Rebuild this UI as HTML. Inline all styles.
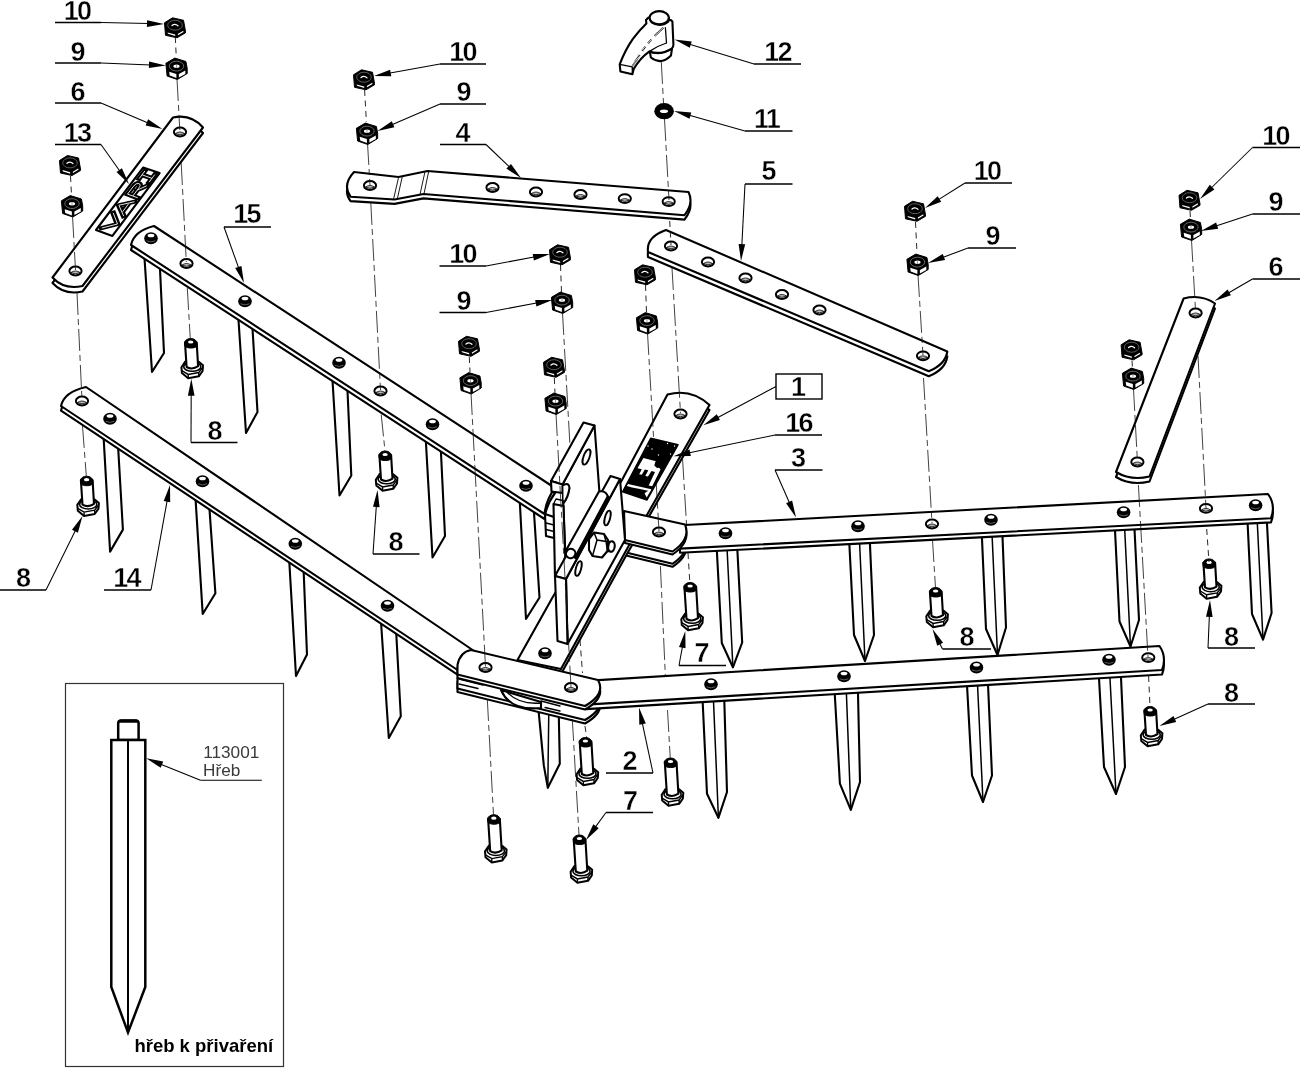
<!DOCTYPE html>
<html><head><meta charset="utf-8"><title>Exploded view</title>
<style>
html,body{margin:0;padding:0;background:#fff;}
svg{display:block;will-change:transform;}
.o{fill:#fff;stroke:#000;stroke-width:2.1;stroke-linejoin:round;stroke-linecap:round;}
.oi{fill:#fff;stroke:#000;stroke-width:2.5;stroke-linejoin:miter;}
.o2{fill:#fff;stroke:#000;stroke-width:1.9;}
.o3{fill:none;stroke:#000;stroke-width:3;stroke-linecap:round;}
.t{fill:none;stroke:#000;stroke-width:1.3;stroke-linejoin:round;stroke-linecap:round;}
.t2{fill:none;stroke:#000;stroke-width:0.9;}
.m{fill:none;stroke:#000;stroke-width:1.5;stroke-linecap:round;}
.h{fill:none;stroke:#000;stroke-width:2.2;stroke-dasharray:0.7 0.7;}
.l{fill:none;stroke:#000;stroke-width:1.05;}
.u{fill:none;stroke:#000;stroke-width:1.5;}
.d{fill:none;stroke:#111;stroke-width:0.8;stroke-dasharray:22 4 6 4;}
.d2{fill:none;stroke:#111;stroke-width:0.9;stroke-dasharray:6 4.5;}
.k{fill:#000;stroke:none;}
.kk{fill:#000;stroke:#000;stroke-width:1.5;stroke-linejoin:round;}
.w{fill:#fff;stroke:none;}
text{font-family:"Liberation Sans",sans-serif;fill:#000;}
.n{font-weight:bold;text-anchor:middle;stroke:#fff;stroke-width:0.4;}
.b{font-weight:bold;}
.thin{font-weight:normal;fill:#3a3a3a;}
</style></head>
<body>
<svg width="1300" height="1068" viewBox="0 0 1300 1068">
<rect width="1300" height="1068" fill="#fff"/>
<defs>
<g id="nut">
<path d="M-10.5,-5 L-2.5,-10 L8.5,-7.5 L10.5,3.5 L10.5,5 L2,10 L-9.5,7.5 Z" fill="#000" stroke="#000" stroke-width="1" stroke-linejoin="round"/>
<path d="M-7.5,4.6 L0.2,6.7 L0.2,8.3 L-7,5.9 Z" fill="#fff"/>
<path d="M2.8,6.3 L8.2,3 L8.5,4.3 L3,7.4 Z" fill="#fff"/>
<ellipse cx="0" cy="-2.6" rx="7.3" ry="5" fill="none" stroke="#999" stroke-width="0.6"/>
<path d="M-3,-2.2 Q0,-4.6 2.9,-2" fill="none" stroke="#fff" stroke-width="1.3" stroke-linecap="round"/>
</g>
<g id="nut9">
<path d="M-10.6,-5.2 L-1.7,-10.4 L9.4,-7 L10.7,-0.2 L10.7,5 L0.8,11 L-9.4,7.5 Z" fill="#000" stroke="#000" stroke-width="1" stroke-linejoin="round"/>
<path d="M-7.3,3.3 L-0.1,5.4 L-0.1,9.4 L-6.8,7 Z" fill="#fff"/>
<path d="M2.4,5.4 L8.8,2 L8.8,5.6 L2.4,9.1 Z" fill="#fff"/>
<ellipse cx="0" cy="-2.4" rx="7.2" ry="4.9" fill="none" stroke="#aaa" stroke-width="0.6"/>
<ellipse cx="0" cy="-2.3" rx="3.1" ry="1.7" fill="#fff"/>
<path d="M0,-4 L0,-0.6" stroke="#333" stroke-width="0.5"/>
</g>
<g id="bolt">
<path d="M-9.2,25.2 L-5.2,19.4 L8.2,19.8 L12.4,23.3 L12,29 L8.2,34.3 L-2.4,36.3 L-8.7,31 Z" fill="#fff" stroke="#000" stroke-width="2" stroke-linejoin="round"/>
<path d="M-8.8,28.6 L-2.4,32.4 L8.2,30.5 L12.2,25.2 M-2.4,32.4 L-2.4,36.3 M8.2,30.5 L8.2,34.3" fill="none" stroke="#000" stroke-width="1.4"/>
<ellipse cx="1.7" cy="24.7" rx="8.6" ry="4.6" fill="#fff" stroke="#000" stroke-width="1.6"/>
<path d="M-5.6,0.5 L-4,25 Q1.7,28.3 7.5,24.2 L6.1,0.5 Z" fill="#fff" stroke="#000" stroke-width="2.1" stroke-linejoin="round"/>
<path d="M-6,0.8 A6,4.2 0 0 1 6.2,0.8 L6.4,3.4 A6.2,3.2 0 0 1 -5.8,3.4 Z" fill="#000" stroke="#000" stroke-width="1"/>
<ellipse cx="0.1" cy="0" rx="2.7" ry="1.6" fill="#fff"/>
</g>
<g id="bolt7">
<g transform="translate(0.5,8)">
<path d="M-9.2,25.2 L-5.2,19.4 L8.2,19.8 L12.4,23.3 L12,29 L8.2,34.3 L-2.4,36.3 L-8.7,31 Z" fill="#fff" stroke="#000" stroke-width="2" stroke-linejoin="round"/>
<path d="M-8.8,28.6 L-2.4,32.4 L8.2,30.5 L12.2,25.2 M-2.4,32.4 L-2.4,36.3 M8.2,30.5 L8.2,34.3" fill="none" stroke="#000" stroke-width="1.4"/>
<ellipse cx="1.7" cy="24.7" rx="8.6" ry="4.6" fill="#fff" stroke="#000" stroke-width="1.6"/>
</g>
<path d="M-5.6,0.5 L-3.5,33 Q2.2,36.3 8,32.2 L6.1,0.5 Z" fill="#fff" stroke="#000" stroke-width="2.1" stroke-linejoin="round"/>
<path d="M-6,0.8 A6,4.2 0 0 1 6.2,0.8 L6.4,3.4 A6.2,3.2 0 0 1 -5.8,3.4 Z" fill="#000" stroke="#000" stroke-width="1"/>
<ellipse cx="0.1" cy="0" rx="2.7" ry="1.6" fill="#fff"/>
</g>
<g id="hole">
<ellipse cx="0" cy="0" rx="6.1" ry="4.4" fill="#fff" stroke="#000" stroke-width="2"/>
<path d="M-4.7,1.6 Q0,-1.6 4.7,1.6 Q0,4 -4.7,1.6 Z" fill="#bbb" stroke="#000" stroke-width="0.8"/>
</g>
<g id="rivet">
<ellipse cx="0" cy="0.2" rx="6.8" ry="6" fill="#000"/>
<ellipse cx="0" cy="-2.5" rx="3.4" ry="1.8" fill="#fff"/>
<path d="M-4.4,2.8 Q0,5 4.4,2.8" fill="none" stroke="#999" stroke-width="0.6"/>
</g>
</defs>
<path class="o" d="M143.9,249.0 L152.0,372.0 L164.0,353.0 L159.6,261.0"/>
<path class="o" d="M237.9,311.0 L246.0,433.0 L257.5,412.0 L252.0,320.0"/>
<path class="o" d="M332.0,372.0 L339.5,495.5 L351.3,475.5 L347.1,382.0"/>
<path class="o" d="M425.5,435.0 L432.5,557.5 L445.0,536.0 L440.6,445.0"/>
<path class="o" d="M519.5,496.0 L526.0,619.0 L539.5,597.5 L533.4,503.5"/>
<path class="o" d="M545.0,514.0 L554.0,517.0 L554.0,538.0 L546.0,536.0 Z"/>
<line class="t" x1="546" y1="523" x2="554" y2="525"/>
<line class="t" x1="546" y1="529.5" x2="554" y2="531.5"/>
<path class="o" d="M154,226 L555,488 Q546,500 544.5,514 L131,245 Q134,231 154,226 Z" transform="translate(0,5)"/>
<path class="o" d="M154,226 L555,488 Q546,500 544.5,514 L131,245 Q134,231 154,226 Z"/>
<use href="#rivet" x="151" y="238"/>
<use href="#rivet" x="245" y="301"/>
<use href="#rivet" x="339" y="362.5"/>
<use href="#rivet" x="432.5" y="424"/>
<use href="#rivet" x="526" y="485.5"/>
<use href="#hole" x="186.5" y="263.5"/>
<use href="#hole" x="380.5" y="391"/>
<path class="o" d="M624,511 L685,524.5 Q691,539 672.5,551.5 L625,540 Z" transform="translate(0,15.3)"/>
<path class="o" d="M624,511 L685,524.5 Q691,539 672.5,551.5 L625,540 Z" transform="translate(0,12.3)"/>
<path class="o" d="M716.5,544.0 L721.8,643.0 L732.9,667.3 L742.2,642.5 L737.0,543.0"/>
<line class="m" x1="726.8" y1="543.5" x2="732.9" y2="667.3"/>
<path class="o" d="M849.0,537.0 L854.0,635.0 L865.0,661.0 L874.0,635.0 L869.6,536.0"/>
<line class="m" x1="859.3" y1="536.5" x2="865" y2="661"/>
<path class="o" d="M981.6,530.0 L986.0,629.0 L997.5,655.0 L1006.0,627.5 L1002.2,528.5"/>
<line class="m" x1="991.8" y1="529.3" x2="997.5" y2="655"/>
<path class="o" d="M1114.6,522.0 L1119.5,621.5 L1130.5,646.5 L1139.0,620.0 L1134.1,521.0"/>
<line class="m" x1="1124.3" y1="521.5" x2="1130.5" y2="646.5"/>
<path class="o" d="M1247.2,515.0 L1252.0,614.0 L1263.0,639.6 L1271.6,613.0 L1266.5,514.0"/>
<line class="m" x1="1256.9" y1="514.5" x2="1263" y2="639.6"/>
<path class="o" d="M680,525.3 L1268,494 Q1276,505 1271,518.2 L680,548.6 Z" transform="translate(0,4.2)"/>
<path class="o" d="M680,525.3 L1268,494 Q1276,505 1271,518.2 L680,548.6 Z"/>
<use href="#rivet" x="725.5" y="533"/>
<use href="#rivet" x="858" y="526"/>
<use href="#rivet" x="991" y="519.5"/>
<use href="#rivet" x="1123.6" y="512"/>
<use href="#rivet" x="1255.6" y="505"/>
<use href="#hole" x="932" y="524"/>
<use href="#hole" x="1206" y="508.4"/>
<path class="o" d="M667.5,394.5 Q691,388 709.5,405 L647.5,514 L627.5,548 L561,669 L517.5,660 L552.5,597.5 L622,480 Z" transform="translate(0,5)"/>
<path class="o" d="M667.5,394.5 Q691,388 709.5,405 L647.5,514 L627.5,548 L561,669 L517.5,660 L552.5,597.5 L622,480 Z"/>
<use href="#hole" x="680.5" y="414"/>
<use href="#rivet" x="545" y="653"/>
<path class="o" d="M624,511 L685,524.5 Q691,539 672.5,551.5 L625,540 Z" transform="translate(0,3)"/>
<path class="o" d="M624,511 L685,524.5 Q691,539 672.5,551.5 L625,540 Z"/>
<use href="#hole" x="659" y="532"/>
<path class="o" d="M594.5,425.5 L562.5,484.5 L565.5,560.0 L600.0,500.0 Z"/>
<path class="o" d="M551.0,481.0 L583.5,422.5 L594.5,425.5 L562.5,484.5 Z"/>
<path class="o" d="M551.0,481.0 L562.5,484.5 L562.5,493.0 L551.5,491.5 Z"/>
<path class="o" d="M563.5,485 Q569,482 569.5,488 Q568,498 563.5,503"/>
<path class="o" d="M553.5,504.0 L563.5,506.0 L566.0,579.0 L555.0,577.0 Z"/>
<path class="t" d="M553.5,504 L556,499 L563,500.5 L563.5,506"/>
<ellipse class="o2" cx="586.5" cy="457" rx="3" ry="8" transform="rotate(20 586.5 457)"/>
<path class="o" d="M620.0,479.0 L566.0,579.0 L567.5,644.0 L625.0,540.0 Z"/>
<path class="o" d="M555.0,576.0 L610.5,476.0 L620.0,479.0 L566.0,579.0 Z"/>
<path class="o" d="M555.0,576.0 L566.0,579.0 L567.5,644.0 L557.5,641.0 Z"/>
<ellipse class="o2" cx="607.5" cy="518" rx="2.6" ry="7.6" transform="rotate(15 607.5 518)"/>
<ellipse class="o2" cx="578.5" cy="568.5" rx="2.6" ry="7.6" transform="rotate(15 578.5 568.5)"/>
<path class="o" d="M566.5,549.5 L599,491.5 Q606,490 608,497 L575.5,557.5 Z"/>
<line class="o3" x1="575.5" y1="557.5" x2="608" y2="497"/>
<ellipse class="o" cx="570.7" cy="553.5" rx="4.6" ry="4.8" transform="rotate(30 570.7 553.5)"/>
<path class="o" d="M589,539 L594,532.5 L604,534 L608,540 L607.5,551 L602,557.5 L592.5,556 L589,550 Z"/>
<path class="m" d="M594,532.5 L597,540 L592.5,556 M597,540 L606,541.5 L607.5,551 M606,541.5 L604,534"/>
<ellipse class="o" cx="611.5" cy="546.5" rx="3.2" ry="5.2" transform="rotate(8 611.5 546.5)"/>
<path class="t" d="M606,541.3 L611,541.3 M606.5,551.7 L611.5,551.7"/>
<path class="o" d="M537.8,702.8 L543.8,765.4 L547.8,787.8 L559.8,763.7 L558.6,706.0"/>
<line class="m" x1="548.9" y1="704.4" x2="547.8" y2="787.8"/>
<path class="o" d="M471,650 L598,680 Q606,694 585,706 L457.5,674.5 L457.5,665 Q460,652 471,650 Z" transform="translate(0,17.5)"/>
<path class="o" d="M471,650 L598,680 Q606,694 585,706 L457.5,674.5 L457.5,665 Q460,652 471,650 Z" transform="translate(0,14)"/>
<path class="o" d="M501,690 Q510,711 541,708 L541,702 Z"/>
<path class="t" d="M506,691 Q518,705 541,703"/>
<path class="t" d="M541,701 L560,706 M545,707.5 L560,711"/>
<path class="t" d="M459,679 L483,685 M459,684 L478,688.5"/>
<path class="o" d="M103.2,430.4 L110.1,551.6 L122.9,529.6 L117.7,439.7"/>
<path class="o" d="M195.1,491.7 L202.7,614.0 L215.4,593.2 L209.0,502.1"/>
<path class="o" d="M288.9,555.0 L296.0,676.0 L307.0,654.5 L303.4,565.0"/>
<path class="o" d="M380.8,618.7 L388.8,738.0 L400.8,716.3 L396.0,628.7"/>
<path class="o" d="M86,387 L480,655 L465,675 L61,406 Q64,392 86,387 Z" transform="translate(0,4.6)"/>
<path class="o" d="M86,387 L480,655 L465,675 L61,406 Q64,392 86,387 Z"/>
<use href="#rivet" x="110" y="418.5"/>
<use href="#rivet" x="202.5" y="481"/>
<use href="#rivet" x="295.3" y="543.5"/>
<use href="#rivet" x="387.5" y="605.5"/>
<use href="#hole" x="82" y="401"/>
<path class="o" d="M702.3,694.0 L707.0,793.7 L718.4,817.8 L727.0,792.0 L724.1,693.7"/>
<line class="m" x1="713.2" y1="693.9" x2="718.4" y2="817.8"/>
<path class="o" d="M834.3,686.0 L839.9,783.7 L850.8,809.8 L860.0,782.0 L857.8,685.0"/>
<line class="m" x1="846.1" y1="685.5" x2="850.8" y2="809.8"/>
<path class="o" d="M966.5,676.0 L972.0,775.5 L983.0,802.0 L992.0,775.5 L987.6,675.0"/>
<line class="m" x1="977.1" y1="675.5" x2="983" y2="802"/>
<path class="o" d="M1098.5,669.5 L1104.0,767.0 L1116.0,794.0 L1125.0,767.0 L1120.6,668.5"/>
<line class="m" x1="1109.5" y1="669.0" x2="1116" y2="794"/>
<path class="o" d="M590,680.6 L1159.5,646 Q1167,657 1162,670 L586,704.6 Z" transform="translate(0,4.5)"/>
<path class="o" d="M590,680.6 L1159.5,646 Q1167,657 1162,670 L586,704.6 Z"/>
<use href="#rivet" x="711" y="684"/>
<use href="#rivet" x="844" y="676"/>
<use href="#rivet" x="976.5" y="667.2"/>
<use href="#rivet" x="1109" y="659.5"/>
<use href="#hole" x="1148.3" y="657.6"/>
<path class="o" d="M471,650 L598,680 Q606,694 585,706 L457.5,674.5 L457.5,665 Q460,652 471,650 Z" transform="translate(0,3.5)"/>
<path class="o" d="M471,650 L598,680 Q606,694 585,706 L457.5,674.5 L457.5,665 Q460,652 471,650 Z"/>
<use href="#hole" x="485.5" y="667.5"/>
<use href="#hole" x="571" y="687.5"/>
<path class="o" d="M354,172 L398.5,177 L427.5,171 L688.5,192 Q694,203 684.5,215.2 L423.5,194 L394.5,199.5 L350.5,196.7 Q342,185 354,172 Z" transform="translate(0,4.4)"/>
<path class="o" d="M354,172 L398.5,177 L427.5,171 L688.5,192 Q694,203 684.5,215.2 L423.5,194 L394.5,199.5 L350.5,196.7 Q342,185 354,172 Z"/>
<path class="t2" d="M398.7,176.8 L393.6,199 M402.3,176.4 L397.4,198.6 M425,171.6 L420,194.4 M428.7,171.3 L424,193.8"/>
<use href="#hole" x="370" y="185.5"/>
<use href="#hole" x="492.5" y="187.5"/>
<use href="#hole" x="536" y="192"/>
<use href="#hole" x="580.5" y="194.5"/>
<use href="#hole" x="624.8" y="198.6"/>
<use href="#hole" x="668.7" y="201.6"/>
<path class="o" d="M666,230 L947.3,351.5 Q945.5,364.5 928.8,371.2 L648,252 Q646,237 666,230 Z" transform="translate(0,5)"/>
<path class="o" d="M666,230 L947.3,351.5 Q945.5,364.5 928.8,371.2 L648,252 Q646,237 666,230 Z"/>
<use href="#hole" x="671" y="246"/>
<use href="#hole" x="708" y="262"/>
<use href="#hole" x="745.5" y="278"/>
<use href="#hole" x="782" y="294.5"/>
<use href="#hole" x="819.5" y="310"/>
<use href="#hole" x="923" y="355.8"/>
<path class="o" d="M173,117.5 Q191,113.5 203,127.5 L82.5,286 Q64,290 52.5,277.5 Z" transform="translate(0,5.5)"/>
<path class="o" d="M173,117.5 Q191,113.5 203,127.5 L82.5,286 Q64,290 52.5,277.5 Z"/>
<use href="#hole" x="180" y="132"/>
<use href="#hole" x="75.5" y="271"/>
<path class="o" d="M143.1,167.6 L159.6,173.1 L112.4,235.9 L96.0,230.0 Z"/>
<g transform="matrix(0.6005,-0.799,0.9425,0.339,96,230)">
<path d="M4,3.6 L13.5,14.2 L23,3.6 M23.5,14.4 L32.5,3.6 L41.5,14.4 M27.5,10.8 L37.5,10.8 M46.5,14.6 L46.5,3.8 L56,3.8 Q61,3.8 61,6.6 Q61,9.4 56,9.4 L46.5,9.4 M54,9.4 L61.5,14.6 M66,3.8 L75.5,3.8 M70.7,3.8 L70.7,14.3 M66,14.3 L75.5,14.3" fill="none" stroke="#000" stroke-width="5" stroke-linejoin="miter" stroke-linecap="square"/>
<path d="M4,3.6 L13.5,14.2 L23,3.6 M23.5,14.4 L32.5,3.6 L41.5,14.4 M27.5,10.8 L37.5,10.8 M46.5,14.6 L46.5,3.8 L56,3.8 Q61,3.8 61,6.6 Q61,9.4 56,9.4 L46.5,9.4 M54,9.4 L61.5,14.6 M66,3.8 L75.5,3.8 M70.7,3.8 L70.7,14.3 M66,14.3 L75.5,14.3" fill="none" stroke="#fff" stroke-width="0.8" stroke-linejoin="miter" stroke-linecap="butt"/>
</g>
<path class="o" d="M1183.6,298.5 Q1201,294 1215,303.5 L1149.5,476.5 Q1131,481 1116,472 Z" transform="translate(0,5)"/>
<path class="o" d="M1183.6,298.5 Q1201,294 1215,303.5 L1149.5,476.5 Q1131,481 1116,472 Z"/>
<use href="#hole" x="1195.6" y="313"/>
<use href="#hole" x="1137.4" y="462"/>
<path class="o" d="M649.8,51.6 L650.9,57.5 Q661,65.5 671,55.4 L672,48.5 Q661,56 649.8,51.6 Z"/>
<path class="o" d="M648.5,17.5 L646,20.1 L646.4,23.4 Q639.5,30 632.9,38.8 Q625,50 619.7,64.4 L620.4,71.4 L632.4,74.3 L633.6,69.3 Q640,58 649.5,51.4 Q660,55.5 671.7,48.6 Q673.6,46.5 673.4,44.4 L672.4,21.5 Q670.5,19.3 668.9,20.1 L668.9,17.7 Z"/>
<path class="t" d="M619.7,64.4 L632.2,66.9 L632.4,74.3 M632.2,66.9 L633.6,69.3"/>
<path class="t" d="M666.5,43 L665.4,27.7 M666.5,43 Q657,46 649.5,51.4"/>
<path class="h" d="M663.4,27.7 L654.5,36 M651.2,39.6 L648.2,43.2 M645.3,46.8 L642.3,50.8 M639.5,55 L632.6,66"/>
<path class="t" d="M649.6,18 Q649.8,21.5 651.5,22.8 Q660,28.5 668.8,21.7 L668.9,18"/>
<ellipse class="o" cx="659.2" cy="17.7" rx="9.6" ry="6.6"/>
<ellipse cx="664.1" cy="111.2" rx="9.8" ry="8.1" fill="#000"/><ellipse cx="664" cy="111.2" rx="4.1" ry="1.8" fill="#fff"/>
<use href="#nut" x="175" y="27.8"/>
<use href="#nut" x="70" y="165.5"/>
<use href="#nut" x="364" y="79.8"/>
<use href="#nut" x="560" y="254.8"/>
<use href="#nut" x="469" y="346.3"/>
<use href="#nut" x="554" y="367.3"/>
<use href="#nut" x="645" y="274.8"/>
<use href="#nut" x="915" y="211.3"/>
<use href="#nut" x="1189.5" y="200.3"/>
<use href="#nut" x="1131.6" y="349.8"/>
<use href="#nut9" x="176.5" y="68.5"/>
<use href="#nut9" x="72" y="206"/>
<use href="#nut9" x="367" y="133.5"/>
<use href="#nut9" x="562" y="302.5"/>
<use href="#nut9" x="470.5" y="383"/>
<use href="#nut9" x="555.5" y="403.5"/>
<use href="#nut9" x="647" y="323"/>
<use href="#nut9" x="917.5" y="264.5"/>
<use href="#nut9" x="1191" y="229.5"/>
<use href="#nut9" x="1133" y="378.5"/>
<use href="#bolt" x="86.5" y="479.7"/>
<use href="#bolt" x="190.6" y="342"/>
<use href="#bolt" x="385" y="454.5"/>
<use href="#bolt" x="935.5" y="591"/>
<use href="#bolt" x="1209" y="562.4"/>
<use href="#bolt" x="1150" y="710"/>
<use href="#bolt7" x="690" y="586"/>
<use href="#bolt7" x="585.3" y="741"/>
<use href="#bolt7" x="670.4" y="761.5"/>
<use href="#bolt7" x="493.7" y="818.2"/>
<use href="#bolt7" x="579.3" y="838.5"/>
<line class="d2" x1="175.3" y1="37" x2="176.3" y2="58"/>
<line class="d" x1="177" y1="79" x2="179.8" y2="130"/>
<line class="d" x1="181.2" y1="163" x2="186.3" y2="262"/>
<line class="d" x1="187.3" y1="288" x2="190.3" y2="339"/>
<line class="d2" x1="70.5" y1="176" x2="71.5" y2="195"/>
<line class="d" x1="72.5" y1="216" x2="75.5" y2="270"/>
<line class="d" x1="77" y1="293" x2="82" y2="400"/>
<line class="d" x1="82.5" y1="426" x2="86.3" y2="476"/>
<line class="d2" x1="364.6" y1="90" x2="366.4" y2="122"/>
<line class="d" x1="367.5" y1="143" x2="370" y2="185"/>
<line class="d" x1="370.8" y1="203" x2="380.5" y2="390"/>
<line class="d" x1="381.2" y1="414.5" x2="385" y2="451"/>
<line class="d" x1="661.3" y1="62" x2="663.5" y2="103"/>
<line class="d" x1="664.5" y1="119" x2="669" y2="200"/>
<line class="d2" x1="669.7" y1="221" x2="671" y2="245"/>
<line class="d" x1="672" y1="268" x2="680.5" y2="413"/>
<line class="d" x1="682.5" y1="458" x2="686.5" y2="524"/>
<line class="d2" x1="688" y1="553" x2="690" y2="585"/>
<line class="d2" x1="645.5" y1="285" x2="646.5" y2="312"/>
<line class="d" x1="647.5" y1="333" x2="659" y2="531"/>
<line class="d" x1="660.4" y1="566" x2="665.3" y2="675"/>
<line class="d" x1="667.5" y1="710" x2="670.3" y2="759"/>
<line class="d2" x1="469.3" y1="357" x2="470" y2="372"/>
<line class="d" x1="471" y1="393" x2="485.5" y2="667"/>
<line class="d" x1="487.3" y1="699" x2="493.5" y2="815"/>
<line class="d2" x1="554.3" y1="378" x2="555" y2="393"/>
<line class="d" x1="556" y1="414" x2="571" y2="687"/>
<line class="d" x1="572.3" y1="719" x2="579" y2="835"/>
<line class="d2" x1="560.5" y1="265" x2="561.5" y2="292"/>
<line class="d" x1="562.5" y1="313" x2="570" y2="446"/>
<line class="d2" x1="580" y1="640" x2="582.5" y2="673"/>
<line class="d2" x1="585" y1="726" x2="587" y2="740"/>
<line class="d2" x1="915.5" y1="222" x2="917" y2="253"/>
<line class="d" x1="918" y1="275" x2="923" y2="355"/>
<line class="d" x1="923.5" y1="378" x2="932" y2="523"/>
<line class="d" x1="932.5" y1="540" x2="935.5" y2="588"/>
<line class="d2" x1="1190" y1="211" x2="1190.5" y2="219"/>
<line class="d" x1="1191.5" y1="240" x2="1195.6" y2="312"/>
<line class="d" x1="1198" y1="356" x2="1206" y2="508"/>
<line class="d2" x1="1206.7" y1="529" x2="1209" y2="562"/>
<line class="d2" x1="1132" y1="360.5" x2="1132.5" y2="368"/>
<line class="d" x1="1133.5" y1="389" x2="1137.4" y2="461"/>
<line class="d" x1="1138.4" y1="485" x2="1148" y2="657"/>
<line class="d2" x1="1148.6" y1="676" x2="1150" y2="707"/>
<path class="kk" d="M650.7,438.3 L678.0,444.8 L647.0,500.0 L622.6,491.8 Z"/>
<path class="w" d="M643.4,458.1 L656.0,461.2 L655.0,464.0 L660.6,469.3 L652.2,486.2 L648.7,485.5 L655.0,472.0 L651.5,471.0 L648.0,476.5 L645.3,476.0 L648.3,470.3 L644.8,469.5 L641.8,474.8 L639.2,474.3 L641.8,469.3 L637.5,468.3 Z"/>
<path class="k" d="M655.5,461.5 L654.3,465.5 L657.0,468.0 L660.0,467.5 L660.5,465.5 L658.0,466.0 L656.5,464.5 L657.0,462.0 Z"/>
<path class="w" d="M628.0,484.0 L651.3,489.3 L650.2,491.3 L640.0,489.0 L632.0,487.5 L626.8,486.0 Z"/>
<path class="w" d="M651.3,489.5 L646.7,497.6 L644.6,493.2 L647.0,491.5 Z"/>
<circle cx="648" cy="446" r="0.7" fill="#fff"/>
<circle cx="652" cy="449" r="0.7" fill="#fff"/>
<circle cx="667.5" cy="443.5" r="0.7" fill="#fff"/>
<circle cx="674.5" cy="446" r="0.7" fill="#fff"/>
<circle cx="670.5" cy="454" r="0.7" fill="#fff"/>
<circle cx="658.5" cy="455" r="0.7" fill="#fff"/>
<text class="n" x="77.1" y="19.5" font-size="27" letter-spacing="-1.6">10</text>
<line class="u" x1="55" y1="22.5" x2="101" y2="22.5"/>
<line class="l" x1="101" y1="22.5" x2="149.0" y2="23.6"/>
<path class="k" d="M164.0,24.0 L146.9,26.9 L147.1,20.3 Z"/>
<text class="n" x="78" y="60.5" font-size="27">9</text>
<line class="u" x1="55" y1="63" x2="101" y2="63"/>
<line class="l" x1="101" y1="63" x2="151.0" y2="64.9"/>
<path class="k" d="M166.0,65.5 L148.9,68.1 L149.1,61.5 Z"/>
<text class="n" x="78" y="100.5" font-size="27">6</text>
<line class="u" x1="55" y1="103" x2="101" y2="103"/>
<line class="l" x1="101" y1="103" x2="148.7" y2="123.2"/>
<path class="k" d="M162.5,129.0 L145.6,125.4 L148.1,119.3 Z"/>
<text class="n" x="77.1" y="141.5" font-size="27" letter-spacing="-1.6">13</text>
<line class="u" x1="55" y1="144.5" x2="101" y2="144.5"/>
<line class="l" x1="101" y1="144.5" x2="120.3" y2="171.8"/>
<path class="k" d="M129.0,184.0 L116.5,172.0 L121.9,168.2 Z"/>
<text class="n" x="246.6" y="222.5" font-size="27" letter-spacing="-1.6">15</text>
<line class="u" x1="224" y1="227" x2="271" y2="227"/>
<line class="l" x1="224" y1="227" x2="239.0" y2="268.9"/>
<path class="k" d="M244.0,283.0 L235.2,268.1 L241.4,265.9 Z"/>
<text class="n" x="462.6" y="60.5" font-size="27" letter-spacing="-1.6">10</text>
<line class="u" x1="440" y1="64" x2="486" y2="64"/>
<line class="l" x1="440" y1="64" x2="388.8" y2="73.3"/>
<path class="k" d="M374.0,76.0 L390.1,69.7 L391.3,76.2 Z"/>
<text class="n" x="464" y="100.5" font-size="27">9</text>
<line class="u" x1="440" y1="104" x2="486" y2="104"/>
<line class="l" x1="440" y1="104" x2="391.3" y2="125.1"/>
<path class="k" d="M377.5,131.0 L391.8,121.2 L394.4,127.3 Z"/>
<text class="n" x="463" y="141.5" font-size="27">4</text>
<line class="u" x1="440" y1="144.5" x2="486" y2="144.5"/>
<line class="l" x1="486" y1="144.5" x2="510.2" y2="167.6"/>
<path class="k" d="M521.0,178.0 L506.4,168.6 L511.0,163.9 Z"/>
<text class="n" x="462.6" y="263" font-size="27" letter-spacing="-1.6">10</text>
<line class="u" x1="439.5" y1="266" x2="486" y2="266"/>
<line class="l" x1="486" y1="266" x2="535.3" y2="256.8"/>
<path class="k" d="M550.0,254.0 L533.9,260.4 L532.7,253.9 Z"/>
<text class="n" x="464" y="309.5" font-size="27">9</text>
<line class="u" x1="439.5" y1="312.5" x2="486" y2="312.5"/>
<line class="l" x1="486" y1="312.5" x2="537.8" y2="302.8"/>
<path class="k" d="M552.5,300.0 L536.4,306.4 L535.2,299.9 Z"/>
<text class="n" x="777.6" y="60.5" font-size="27" letter-spacing="-1.6">12</text>
<line class="u" x1="754" y1="64" x2="801" y2="64"/>
<line class="l" x1="754" y1="64" x2="688.8" y2="43.9"/>
<path class="k" d="M674.5,39.5 L691.7,41.4 L689.8,47.7 Z"/>
<text class="n" x="766.6" y="128" font-size="27" letter-spacing="-1.6">11</text>
<line class="u" x1="745" y1="131" x2="792.5" y2="131"/>
<line class="l" x1="745" y1="131" x2="688.4" y2="115.1"/>
<path class="k" d="M674.0,111.0 L691.3,112.4 L689.5,118.8 Z"/>
<text class="n" x="769" y="179.5" font-size="27">5</text>
<line class="u" x1="745" y1="184" x2="792.5" y2="184"/>
<line class="l" x1="745" y1="184" x2="741.8" y2="246.0"/>
<path class="k" d="M741.0,261.0 L738.6,243.9 L745.2,244.2 Z"/>
<text class="n" x="987.1" y="180" font-size="27" letter-spacing="-1.6">10</text>
<line class="u" x1="965" y1="183" x2="1012" y2="183"/>
<line class="l" x1="965" y1="183" x2="937.7" y2="200.1"/>
<path class="k" d="M925.0,208.0 L937.7,196.2 L941.2,201.8 Z"/>
<text class="n" x="993" y="244.5" font-size="27">9</text>
<line class="u" x1="968" y1="248" x2="1016" y2="248"/>
<line class="l" x1="968" y1="248" x2="942.0" y2="257.7"/>
<path class="k" d="M928.0,263.0 L942.8,253.9 L945.1,260.1 Z"/>
<text class="n" x="1275.6" y="145" font-size="27" letter-spacing="-1.6">10</text>
<line class="u" x1="1252.5" y1="147.5" x2="1300" y2="147.5"/>
<line class="l" x1="1252.5" y1="147.5" x2="1210.7" y2="188.5"/>
<path class="k" d="M1200.0,199.0 L1209.8,184.7 L1214.4,189.5 Z"/>
<text class="n" x="1276" y="210.5" font-size="27">9</text>
<line class="u" x1="1252.5" y1="214" x2="1300" y2="214"/>
<line class="l" x1="1252.5" y1="214" x2="1215.2" y2="226.3"/>
<path class="k" d="M1201.0,231.0 L1216.1,222.5 L1218.2,228.8 Z"/>
<text class="n" x="1276" y="275.5" font-size="27">6</text>
<line class="u" x1="1252.5" y1="279" x2="1300" y2="279"/>
<line class="l" x1="1252.5" y1="279" x2="1227.5" y2="293.5"/>
<path class="k" d="M1214.5,301.0 L1227.6,289.6 L1230.9,295.3 Z"/>
<text class="n" x="798.6" y="431.5" font-size="27" letter-spacing="-1.6">16</text>
<line class="u" x1="775" y1="435" x2="822" y2="435"/>
<line class="l" x1="775" y1="435" x2="688.2" y2="453.1"/>
<path class="k" d="M673.5,456.2 L689.5,449.5 L690.8,456.0 Z"/>
<text class="n" x="798.5" y="466.5" font-size="27">3</text>
<line class="u" x1="775" y1="470" x2="822.5" y2="470"/>
<line class="l" x1="775" y1="470" x2="789.9" y2="503.8"/>
<path class="k" d="M796.0,517.5 L786.1,503.3 L792.1,500.6 Z"/>
<text class="n" x="396" y="550.5" font-size="27">8</text>
<line class="u" x1="373" y1="554" x2="419.5" y2="554"/>
<line class="l" x1="373" y1="554" x2="376.4" y2="505.0"/>
<path class="k" d="M377.5,490.0 L379.6,507.2 L373.0,506.7 Z"/>
<text class="n" x="215" y="439.5" font-size="27">8</text>
<line class="u" x1="191" y1="442.5" x2="237.5" y2="442.5"/>
<line class="l" x1="191" y1="442.5" x2="191.2" y2="393.7"/>
<path class="k" d="M191.3,378.7 L194.5,395.7 L187.9,395.7 Z"/>
<text class="n" x="23.5" y="586.5" font-size="27">8</text>
<line class="u" x1="0" y1="590" x2="46" y2="590"/>
<line class="l" x1="46" y1="590" x2="75.9" y2="529.5"/>
<path class="k" d="M82.5,516.0 L77.9,532.7 L72.0,529.8 Z"/>
<text class="n" x="126.6" y="586.5" font-size="27" letter-spacing="-1.6">14</text>
<line class="u" x1="104" y1="590" x2="151" y2="590"/>
<line class="l" x1="151" y1="590" x2="167.3" y2="499.8"/>
<path class="k" d="M170.0,485.0 L170.2,502.3 L163.7,501.1 Z"/>
<text class="n" x="702" y="661.5" font-size="27">7</text>
<line class="u" x1="679" y1="665.5" x2="726" y2="665.5"/>
<line class="l" x1="679" y1="665.5" x2="682.6" y2="645.8"/>
<path class="k" d="M685.3,631.0 L685.5,648.3 L679.0,647.1 Z"/>
<text class="n" x="630" y="769.5" font-size="27">2</text>
<line class="u" x1="606" y1="773" x2="653" y2="773"/>
<line class="l" x1="653" y1="773" x2="642.1" y2="722.2"/>
<path class="k" d="M639.0,707.5 L645.8,723.4 L639.3,724.8 Z"/>
<text class="n" x="630.5" y="809.5" font-size="27">7</text>
<line class="u" x1="606" y1="812.5" x2="653" y2="812.5"/>
<line class="l" x1="606" y1="812.5" x2="594.8" y2="827.9"/>
<path class="k" d="M586.0,840.0 L593.3,824.3 L598.7,828.2 Z"/>
<text class="n" x="967" y="645.5" font-size="27">8</text>
<line class="u" x1="942.5" y1="649" x2="991" y2="649"/>
<line class="l" x1="942.5" y1="649" x2="939.2" y2="642.4"/>
<path class="k" d="M932.5,629.0 L943.1,642.7 L937.2,645.7 Z"/>
<text class="n" x="1231.5" y="645.5" font-size="27">8</text>
<line class="u" x1="1208" y1="648" x2="1255" y2="648"/>
<line class="l" x1="1208" y1="648" x2="1209.4" y2="615.0"/>
<path class="k" d="M1210.0,600.0 L1212.6,617.1 L1206.0,616.8 Z"/>
<text class="n" x="1231.5" y="702" font-size="27">8</text>
<line class="u" x1="1208" y1="704" x2="1255" y2="704"/>
<line class="l" x1="1208" y1="704" x2="1173.1" y2="719.8"/>
<path class="k" d="M1159.4,726.0 L1173.5,716.0 L1176.2,722.0 Z"/>
<rect x="776" y="374" width="46" height="25" fill="#fff" stroke="#000" stroke-width="1.4"/>
<text class="n" x="798.5" y="396" font-size="27">1</text>
<line class="l" x1="776" y1="386.5" x2="716.5" y2="418.2"/>
<path class="k" d="M703.3,425.2 L716.8,414.3 L719.9,420.1 Z"/>
<rect x="65.5" y="683.5" width="218" height="383" fill="none" stroke="#333" stroke-width="1.2"/>
<path class="oi" d="M118.2,740 L118.2,723.5 Q118.2,720.6 121.2,720.6 L135.6,720.6 Q138.6,720.6 138.6,723.5 L138.6,740 Z"/>
<line x1="120.5" y1="721.2" x2="136.3" y2="721.2" stroke="#000" stroke-width="3.2" stroke-linecap="round"/>
<path class="oi" d="M111.3,740.0 L145.3,740.0 L145.3,987.0 L128.0,1032.5 L111.3,987.0 Z"/>
<line x1="128" y1="740" x2="128" y2="1031" stroke="#000" stroke-width="2"/>
<text class="thin" x="203.2" y="758.3" font-size="17.2">113001</text>
<text class="thin" x="203" y="776.3" font-size="17.2">Hřeb</text>
<line class="l" x1="200.5" y1="780.3" x2="261.8" y2="780.3"/>
<line class="l" x1="200.5" y1="780.3" x2="160.1" y2="763.9"/>
<path class="k" d="M146.2,758.3 L163.2,761.5 L160.7,767.8 Z"/>
<text class="b" x="134.4" y="1052" font-size="18.5">hřeb k přivaření</text>
</svg>
</body></html>
